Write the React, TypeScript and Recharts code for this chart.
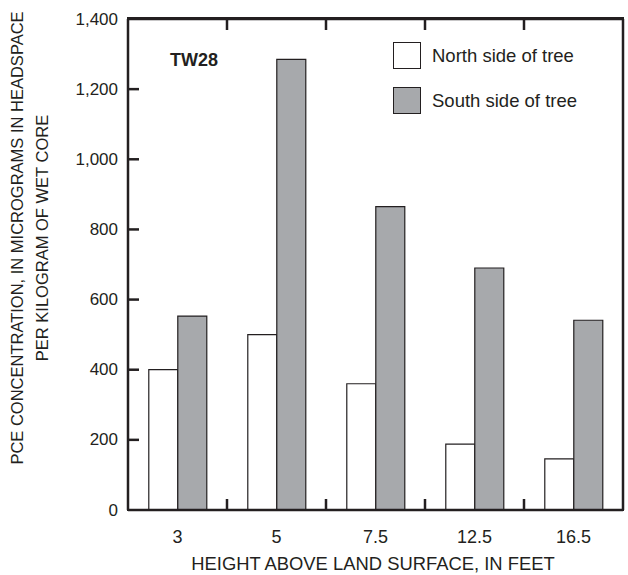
import React from 'react';
import { BarChart, Bar, XAxis, YAxis } from 'recharts';

const categories = ['3', '5', '7.5', '12.5', '16.5'];
const northValues = [400, 500, 360, 188, 146];
const southValues = [553, 1285, 865, 690, 541];
const yTicks = [0, 200, 400, 600, 800, 1000, 1200, 1400];
const seriesNames = ['North side of tree', 'South side of tree'];
const siteLabel = 'TW28';
const xTitle = 'HEIGHT ABOVE LAND SURFACE, IN FEET';
const yTitleLines = ['PCE CONCENTRATION, IN MICROGRAMS IN HEADSPACE', 'PER KILOGRAM OF WET CORE'];

const data = categories.map((c, i) => ({ category: c, north: northValues[i], south: southValues[i] }));

const INK = '#231f20';
const GRAY = '#a7a9ac';
const WHITE = '#ffffff';
const seriesFills = [WHITE, GRAY];
const FONT = '"Liberation Sans", Arial, Helvetica, sans-serif';
const TICK_LEN = 11;
const AXIS_W = 2.5;

const fmt = (v: number) => v.toLocaleString('en-US');

const LeftTick = (props: any) => {
  const { x, y, payload } = props;
  const v = payload.value;
  return (
    <g>
      {v !== 0 && v !== 1400 && <path d={`M${x},${y}H${x + TICK_LEN}`} stroke={INK} strokeWidth={AXIS_W} fill="none" />}
      <text x={x - 10} y={y} textAnchor="end" dominantBaseline="central" fill={INK} stroke="none" fontSize={17} fontFamily={FONT}>
        {fmt(v)}
      </text>
    </g>
  );
};

const RightTick = (props: any) => {
  const { x, y, payload } = props;
  const v = payload.value;
  if (v === 0 || v === 1400) return <g />;
  return <path d={`M${x},${y}H${x - TICK_LEN}`} stroke={INK} strokeWidth={AXIS_W} fill="none" />;
};

const BottomTick = (props: any) => {
  const { x, y, payload, index } = props;
  const off = payload.offset ?? 49.6;
  return (
    <g>
      <text x={x} y={y + 27} textAnchor="middle" dominantBaseline="central" fill={INK} stroke="none" fontSize={18} fontFamily={FONT}>
        {payload.value}
      </text>
      {index < categories.length - 1 && (
        <path d={`M${x + off},${y}V${y - TICK_LEN}`} stroke={INK} strokeWidth={AXIS_W} fill="none" />
      )}
    </g>
  );
};

const TopTick = (props: any) => {
  const { x, y, payload, index } = props;
  const off = payload.offset ?? 49.6;
  if (index >= categories.length - 1) return <g />;
  return <path d={`M${x + off},${y}V${y + TICK_LEN}`} stroke={INK} strokeWidth={AXIS_W} fill="none" />;
};

const textStyle: React.CSSProperties = {
  position: 'absolute',
  fontFamily: FONT,
  color: INK,
  whiteSpace: 'nowrap',
};

export default function App() {
  return (
    <div style={{ position: 'absolute', left: 0, top: 0, width: 628, height: 575, background: '#fff' }}>
      <BarChart
        width={628}
        height={575}
        data={data}
        margin={{ top: 18, right: 4, bottom: 0, left: 0 }}
        barCategoryGap="21%"
        barGap={0}
      >
        <XAxis dataKey="category" height={65} stroke={INK} strokeWidth={AXIS_W} tickSize={0} tickMargin={0} tick={<BottomTick />} />
        <XAxis
          xAxisId="top"
          dataKey="category"
          orientation="top"
          height={1}
          stroke={INK}
          strokeWidth={AXIS_W}
          tickSize={0}
          tickMargin={0}
          tick={<TopTick />}
        />
        <YAxis width={128} domain={[0, 1400]} ticks={yTicks} stroke={INK} strokeWidth={AXIS_W} tickSize={0} tickMargin={0} tick={<LeftTick />} />
        <YAxis
          yAxisId="right"
          orientation="right"
          width={1}
          domain={[0, 1400]}
          ticks={yTicks}
          stroke={INK}
          strokeWidth={AXIS_W}
          tickSize={0}
          tickMargin={0}
          tick={<RightTick />}
        />
        <Bar dataKey="north" name={seriesNames[0]} fill={seriesFills[0]} stroke={INK} strokeWidth={1.2} isAnimationActive={false} />
        <Bar dataKey="south" name={seriesNames[1]} fill={seriesFills[1]} stroke={INK} strokeWidth={1.2} isAnimationActive={false} />
      </BarChart>
      <div
        style={{
          position: 'absolute',
          left: 127,
          top: 17,
          width: 497,
          height: 494,
          boxSizing: 'border-box',
          border: `2px solid ${INK}`,
          pointerEvents: 'none',
        }}
      />
      {seriesNames.map((name, i) => (
        <div key={name} style={{ position: 'absolute', left: 393, top: 42 + i * 45, display: 'flex', alignItems: 'center', height: 27 }}>
          <div style={{ width: 26, height: 25, background: seriesFills[i], border: `1.5px solid ${INK}`, marginRight: 11 }} />
          <span style={{ fontFamily: FONT, color: INK, fontSize: 18.5, whiteSpace: 'nowrap', lineHeight: '27px' }}>{name}</span>
        </div>
      ))}
      <div style={{ ...textStyle, left: 170, top: 49, fontWeight: 'bold', fontSize: 18, lineHeight: '22px' }}>{siteLabel}</div>
      <div style={{ ...textStyle, left: 373, top: 564, fontSize: 18.4, lineHeight: '20px', transform: 'translate(-50%, -50%)' }}>
        {xTitle}
      </div>
      <div
        style={{
          ...textStyle,
          left: 17,
          top: 238,
          fontSize: 16.5,
          lineHeight: '20px',
          transform: 'translate(-50%, -50%) rotate(-90deg)',
        }}
      >
        {yTitleLines[0]}
      </div>
      <div
        style={{
          ...textStyle,
          left: 42,
          top: 238,
          fontSize: 16.5,
          lineHeight: '20px',
          transform: 'translate(-50%, -50%) rotate(-90deg)',
        }}
      >
        {yTitleLines[1]}
      </div>
    </div>
  );
}
